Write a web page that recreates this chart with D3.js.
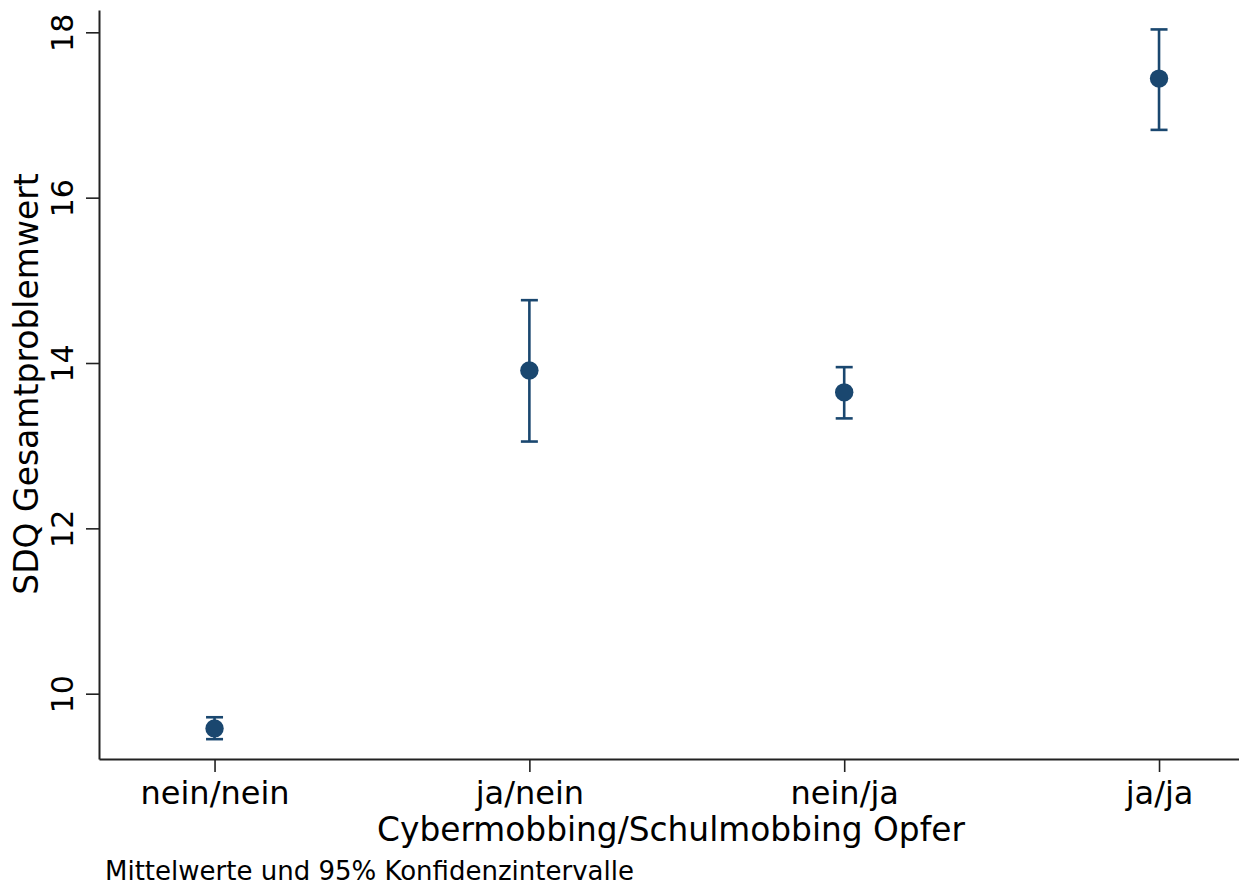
<!DOCTYPE html>
<html>
<head>
<meta charset="utf-8">
<script src="https://cdn.jsdelivr.net/npm/d3@7"></script>
<style>
  body { margin: 0; background: #fff; }
  text { font-family: "DejaVu Sans", sans-serif; fill: #000; }
</style>
</head>
<body>
<div id="chart"></div>
<script>
// data
var categories = ["nein/nein", "ja/nein", "nein/ja", "ja/ja"];
var means = [9.58, 13.91, 13.645, 17.44];
var lower = [9.45, 13.05, 13.33, 16.82];
var upper = [9.715, 14.76, 13.95, 18.035];
var yTicks = [10, 12, 14, 16, 18];

var width = 1239, height = 895;
var col = "#1a476f";

var svg = d3.select("#chart").append("svg")
  .attr("width", width)
  .attr("height", height);

var x = d3.scaleLinear().domain([0.633, 4.254]).range([99, 1239]);
var y = d3.scaleLinear().domain([9.21, 18.27]).range([759, 10]);

var data = categories.map(function(c, i) {
  return {cat: c, pos: i + 1, m: means[i], lo: lower[i], hi: upper[i]};
});

// y axis
var yAxis = d3.axisLeft(y).tickValues(yTicks).tickSize(13).tickSizeOuter(0).tickFormat(d3.format("d"));
var gy = svg.append("g").attr("transform", "translate(99,0)").call(yAxis);
gy.select(".domain").attr("stroke", "#222").attr("stroke-width", 2);
gy.selectAll(".tick line").attr("stroke", "#222").attr("stroke-width", 1.6);
gy.selectAll(".tick text")
  .attr("x", null).attr("dy", null)
  .attr("transform", "translate(-26,0) rotate(-90)")
  .attr("text-anchor", "middle")
  .style("font-size", "30px")
  .style("font-family", "DejaVu Sans");

// x axis
var xAxis = d3.axisBottom(x).tickValues([1, 2, 3, 4]).tickSize(13).tickSizeOuter(0)
  .tickFormat(function(d) { return categories[d - 1]; });
var gx = svg.append("g").attr("transform", "translate(0,759)").call(xAxis);
gx.select(".domain").attr("stroke", "#222").attr("stroke-width", 2);
gx.selectAll(".tick line").attr("stroke", "#222").attr("stroke-width", 1.6);
gx.selectAll(".tick text")
  .attr("y", 45).attr("dy", null)
  .style("font-size", "32px")
  .style("font-family", "DejaVu Sans");

// error bars
var g = svg.append("g");
g.selectAll("line.ci").data(data).enter().append("line")
  .attr("x1", d => x(d.pos)).attr("x2", d => x(d.pos))
  .attr("y1", d => y(d.lo)).attr("y2", d => y(d.hi))
  .attr("stroke", col).attr("stroke-width", 2.6);
g.selectAll("line.capTop").data(data).enter().append("line")
  .attr("x1", d => x(d.pos) - 8.5).attr("x2", d => x(d.pos) + 8.5)
  .attr("y1", d => y(d.hi)).attr("y2", d => y(d.hi))
  .attr("stroke", col).attr("stroke-width", 2.6);
g.selectAll("line.capBot").data(data).enter().append("line")
  .attr("x1", d => x(d.pos) - 8.5).attr("x2", d => x(d.pos) + 8.5)
  .attr("y1", d => y(d.lo)).attr("y2", d => y(d.lo))
  .attr("stroke", col).attr("stroke-width", 2.6);
g.selectAll("circle").data(data).enter().append("circle")
  .attr("cx", d => x(d.pos)).attr("cy", d => y(d.m)).attr("r", 9.2)
  .attr("fill", col);

// titles
svg.append("text")
  .attr("x", 671).attr("y", 841)
  .attr("text-anchor", "middle")
  .style("font-size", "32.8px")
  .text("Cybermobbing/Schulmobbing Opfer");

svg.append("text")
  .attr("transform", "translate(38,384) rotate(-90)")
  .attr("text-anchor", "middle")
  .style("font-size", "33px")
  .text("SDQ Gesamtproblemwert");

svg.append("text")
  .attr("x", 105).attr("y", 880)
  .style("font-size", "26px")
  .text("Mittelwerte und 95% Konfidenzintervalle");
</script>
</body>
</html>
